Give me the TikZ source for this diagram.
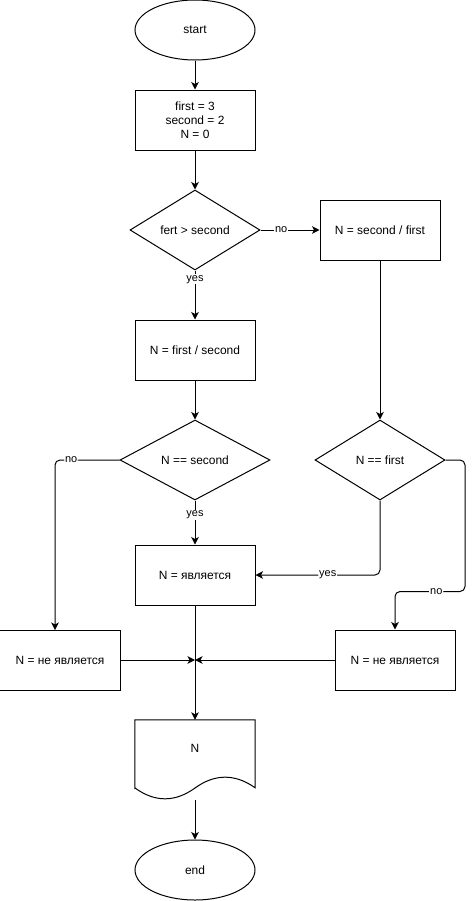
\documentclass[tikz,border=0pt]{standalone}
\usepackage{fontspec}
\setmainfont{Liberation Sans}
\usetikzlibrary{arrows.meta,shapes.geometric}
\begin{document}
\begin{tikzpicture}[x=1bp,y=-1bp,
  every node/.style={font=\fontsize{12}{14}\selectfont, inner sep=0pt},
  shp/.style={draw, line width=1bp},
  proc/.style={shp, rectangle, minimum width=120bp, minimum height=60bp, align=center},
  term/.style={shp, ellipse, minimum width=120bp, minimum height=60bp},
  dec/.style={shp, diamond, minimum height=80bp},
  arr/.style={line width=1bp, -{Stealth[length=7.5bp,width=7.5bp,inset=2bp]}},
  rnd/.style={rounded corners=5bp},
  lbl/.style={font=\fontsize{11}{13}\selectfont, fill=white, inner sep=1bp}
]
\useasboundingbox (0,0) rectangle (475,901);

% shapes
\node[term] (start) at (195,30) {start};
\node[proc] (init) at (195,120) {first = 3\\second = 2\\N = 0};
\node[dec, minimum width=130bp] (d1) at (195,230) {fert > second};
\node[proc] (p2) at (380,230) {N = second / first};
\node[proc] (p1) at (195,350) {N = first / second};
\node[dec, minimum width=150bp] (d2) at (195,460) {N == second};
\node[dec, minimum width=130bp] (d3) at (380,460) {N == first};
\node[proc] (yes) at (195,575) {N = является};
\node[proc] (nl) at (60,660) {N = не является};
\node[proc] (nr) at (395,660) {N = не является};
\node[minimum width=120bp, minimum height=80bp] (doc) at (195,760) {};
\node at (195,748) {N};
\node[term] (end) at (195,870) {end};

% document outline with wavy bottom
\draw[line width=1bp] (doc.south west) ++(0,-12) -- (doc.north west) -- (doc.north east)
  -- ++(0,68) .. controls (235,773.6) and (215,773.6) .. (195,788)
  .. controls (175,802.4) and (155,802.4) .. (135,788) -- cycle;

% bend points of the routed connectors
\coordinate (m) at (195,660);
\coordinate (a1) at (55,460);
\coordinate (a2) at (55,630);
\coordinate (b1) at (465,460);
\coordinate (b2) at (465,591.5);
\coordinate (b3) at (395,591.5);
\coordinate (c1) at (380,575);

% connectors
\draw[arr] (start) -- (init);
\draw[arr] (init) -- (d1);
\draw[arr] (d1) -- node[lbl, pos=0.35] {no} (p2);
\draw[arr] (d1) -- node[lbl, pos=0.18] {yes} (p1);
\draw[arr] (p1) -- (d2);
\draw[arr] (p2) -- (d3);
\draw[arr] (d2) -- node[lbl, pos=0.33] {yes} (yes);
\draw[arr, rnd] (d2.west) -- node[lbl, pos=0.75] {no} (a1) -- (a2);
\draw[arr, rnd] (d3.south) -- (c1) -- node[lbl, pos=0.42] {yes} (yes.east);
\draw[arr, rnd] (d3.east) -- (b1) -- (b2) -- node[lbl, pos=0.41] {no} (b3) -- (nr.north);
\draw[arr] (yes) -- (doc.north);
\draw[arr] (nl.east) -- (m);
\draw[arr] (nr.west) -- (m);
\draw[arr] (doc.south) -- (end);
\end{tikzpicture}
\end{document}
